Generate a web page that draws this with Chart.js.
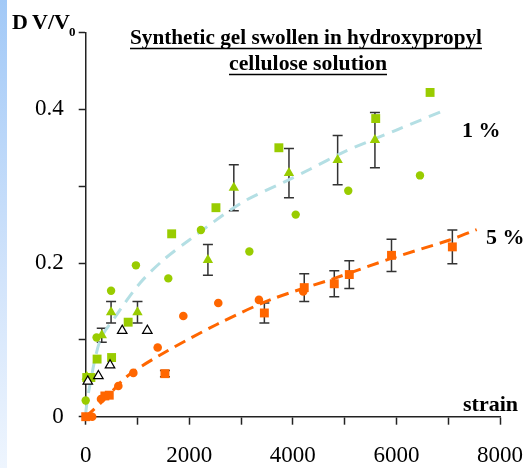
<!DOCTYPE html>
<html>
<head>
<meta charset="utf-8">
<title>Synthetic gel swollen in hydroxypropyl cellulose solution</title>
<script src="https://cdn.jsdelivr.net/npm/chart.js@4.4.1/dist/chart.umd.min.js"></script>
<style>
  html, body { margin: 0; padding: 0; background: #fff; }
  #wrap { width: 531px; height: 468px; }
</style>
</head>
<body>
<div id="wrap"><canvas id="chart" width="531" height="468"></canvas></div>
<script>
// 1 % solution - green squares
const strain1Sq = [20, 100, 220, 500, 820, 1660, 2515, 3730, 5600, 6650];
const dv1Sq = [0.051, 0.051, 0.075, 0.077, 0.123, 0.238, 0.272, 0.350, 0.388, 0.422];

// 1 % solution - green triangles (mean with error bars)
const strain1Tri = [20, 310, 490, 1000, 2360, 2860, 3925, 4865, 5585];
const dv1Tri = [0.052, 0.106, 0.136, 0.136, 0.204, 0.298, 0.317, 0.334, 0.360];
const err1Tri = [0, 0.009, 0.014, 0.014, 0.020, 0.030, 0.032, 0.032, 0.036];

// 1 % solution - green circles
const strain1Circ = [0, 210, 490, 970, 1595, 2225, 3160, 4055, 5070, 6455];
const dv1Circ = [0.021, 0.103, 0.164, 0.197, 0.180, 0.243, 0.215, 0.263, 0.294, 0.314];

// open black triangles
const strainOpen = [40, 245, 470, 705, 1190];
const dvOpen = [0.046, 0.053, 0.067, 0.112, 0.112];

// 5 % solution - orange squares (with error bars)
const strain5Sq = [0, 370, 455, 1530, 3450, 4220, 4800, 5090, 5905, 7080];
const dv5Sq = [0, 0.027, 0.028, 0.056, 0.135, 0.168, 0.173, 0.185, 0.210, 0.221];
const err5Sq = [0, 0, 0, 0.004, 0.013, 0.018, 0.017, 0.018, 0.021, 0.022];

// 5 % solution - orange circles
const strain5Circ = [125, 295, 630, 920, 1390, 1885, 2560, 3345, 4200];
const dv5Circ = [0, 0.023, 0.040, 0.057, 0.090, 0.131, 0.148, 0.152, 0.163];

// dashed fit curves
const fitStrain1 = [0, 50, 280, 570, 1050, 1500, 2000, 3000, 3850, 4330, 5000, 6000, 6970];
const fitDv1 = [0.005, 0.03, 0.100, 0.130, 0.174, 0.204, 0.230, 0.278, 0.306, 0.322, 0.345, 0.373, 0.400];
const fitStrain5 = [0, 100, 400, 790, 1430, 2530, 3560, 4800, 5900, 7030, 7550];
const fitDv5 = [0, 0.006, 0.025, 0.052, 0.080, 0.120, 0.152, 0.180, 0.206, 0.230, 0.2435];

// axis ticks
const xTicks = [0, 2000, 4000, 6000, 8000];
const yTicks = [0, 0.2, 0.4];

const GREEN = '#99cc00';
const ORANGE = '#ff6600';
const SERIF = '"Liberation Serif", "Times New Roman", serif';

function toPoints(xs, ys) {
    return xs.map((x, i) => ({ x: x, y: ys[i] }));
}

const errorBars = {
    id: 'errorBars',
    beforeDatasetsDraw(chart) {
        const ctx = chart.ctx;
        const xs = chart.scales.x;
        const ys = chart.scales.y;
        ctx.save();
        ctx.strokeStyle = '#333';
        ctx.lineWidth = 1.5;
        chart.data.datasets.forEach(ds => {
            if (!ds.errors) return;
            ds.data.forEach((p, i) => {
                const e = ds.errors[i];
                if (!e) return;
                const px = xs.getPixelForValue(p.x);
                const top = ys.getPixelForValue(p.y + e);
                const bot = ys.getPixelForValue(p.y - e);
                ctx.beginPath();
                ctx.moveTo(px, top);
                ctx.lineTo(px, bot);
                ctx.moveTo(px - 5, top);
                ctx.lineTo(px + 5, top);
                ctx.moveTo(px - 5, bot);
                ctx.lineTo(px + 5, bot);
                ctx.stroke();
            });
        });
        ctx.restore();
    }
};

const background = {
    id: 'background',
    beforeDraw(chart) {
        const ctx = chart.ctx;
        ctx.save();
        ctx.fillStyle = '#fff';
        ctx.fillRect(0, 0, chart.width, chart.height);
        const g = ctx.createLinearGradient(0, 0, 0, chart.height);
        g.addColorStop(0, '#a2c9f7');
        g.addColorStop(0.6, '#d2e4fb');
        g.addColorStop(1, '#eef5fe');
        ctx.fillStyle = g;
        ctx.fillRect(0, 0, 7, chart.height);
        ctx.restore();
    }
};

function underlined(ctx, text, cx, baseline, maxW, lineY) {
    let w = ctx.measureText(text).width;
    if (w > maxW) w = maxW;
    ctx.textAlign = 'center';
    ctx.fillText(text, cx, baseline, maxW);
    ctx.beginPath();
    ctx.moveTo(cx - w / 2, lineY);
    ctx.lineTo(cx + w / 2, lineY);
    ctx.stroke();
}

const labels = {
    id: 'labels',
    afterDraw(chart) {
        const ctx = chart.ctx;
        ctx.save();
        ctx.fillStyle = '#000';
        ctx.strokeStyle = '#000';
        ctx.lineWidth = 1.5;
        ctx.textBaseline = 'alphabetic';

        ctx.font = 'bold 22px ' + SERIF;
        underlined(ctx, 'Synthetic gel swollen in hydroxypropyl', 306, 44, 352, 48.5);
        underlined(ctx, 'cellulose solution', 308, 70, 158, 74.5);

        ctx.textAlign = 'left';
        ctx.font = 'bold 22px ' + SERIF;
        ctx.fillText('D', 12, 29);
        ctx.fillText('V/V', 32, 29);
        ctx.font = 'bold 13px ' + SERIF;
        ctx.fillText('0', 69, 36);

        ctx.font = 'bold 22px ' + SERIF;
        ctx.fillText('1 %', 462, 137);
        ctx.fillText('5 %', 486, 244);

        ctx.font = 'bold 22px ' + SERIF;
        ctx.fillText('strain', 463, 411, 62);
        ctx.restore();
    }
};

const ctx = document.getElementById('chart').getContext('2d');

new Chart(ctx, {
    type: 'scatter',
    data: {
        datasets: [
            {
                label: 'open triangles',
                data: toPoints(strainOpen, dvOpen),
                pointStyle: 'triangle',
                pointRadius: 5.5,
                backgroundColor: '#fff',
                borderColor: '#000',
                borderWidth: 1.2,
                clip: false
            },
            {
                label: '1 % triangles',
                data: toPoints(strain1Tri, dv1Tri),
                errors: err1Tri,
                pointStyle: 'triangle',
                pointRadius: 6,
                backgroundColor: GREEN,
                borderColor: GREEN,
                borderWidth: 0,
                clip: false
            },
            {
                label: '1 % squares',
                data: toPoints(strain1Sq, dv1Sq),
                pointStyle: 'rect',
                pointRadius: 6.3,
                backgroundColor: GREEN,
                borderColor: GREEN,
                borderWidth: 0,
                clip: false
            },
            {
                label: '1 % circles',
                data: toPoints(strain1Circ, dv1Circ),
                pointStyle: 'circle',
                pointRadius: 4.2,
                backgroundColor: GREEN,
                borderColor: GREEN,
                borderWidth: 0,
                clip: false
            },
            {
                label: '5 % squares',
                data: toPoints(strain5Sq, dv5Sq),
                errors: err5Sq,
                pointStyle: 'rect',
                pointRadius: 6.3,
                backgroundColor: ORANGE,
                borderColor: ORANGE,
                borderWidth: 0,
                clip: false
            },
            {
                label: '5 % circles',
                data: toPoints(strain5Circ, dv5Circ),
                pointStyle: 'circle',
                pointRadius: 4.3,
                backgroundColor: ORANGE,
                borderColor: ORANGE,
                borderWidth: 0,
                clip: false
            },
            {
                label: '1 % fit',
                data: toPoints(fitStrain1, fitDv1),
                showLine: true,
                borderColor: '#b4dfe4',
                borderWidth: 3,
                borderDash: [12, 8],
                pointRadius: 0,
                tension: 0.3,
                clip: false
            },
            {
                label: '5 % fit',
                data: toPoints(fitStrain5, fitDv5),
                showLine: true,
                borderColor: ORANGE,
                borderWidth: 3,
                borderDash: [12, 7],
                pointRadius: 0,
                tension: 0.3,
                clip: false
            }
        ]
    },
    options: {
        responsive: false,
        animation: false,
        layout: { padding: { top: 32.5, right: 31, left: 0, bottom: 0 } },
        plugins: {
            legend: { display: false },
            tooltip: { enabled: false },
            title: { display: false }
        },
        scales: {
            x: {
                type: 'linear',
                min: 0,
                max: 8000,
                afterFit: function (scale) {
                    scale.height = 51.3;
                    scale.paddingLeft = 0;
                    scale.paddingRight = 0;
                },
                border: { display: true, color: '#222', width: 1.5 },
                grid: { drawOnChartArea: false, drawTicks: true, tickLength: 8, tickWidth: 1.5, tickColor: '#222' },
                ticks: {
                    stepSize: 1000,
                    padding: 17,
                    maxRotation: 0,
                    autoSkip: false,
                    color: '#000',
                    font: { family: SERIF, size: 23 },
                    callback: v => xTicks.includes(v) ? String(v) : ''
                }
            },
            y: {
                type: 'linear',
                min: 0,
                max: 0.5,
                afterFit: function (scale) {
                    scale.width = 85.7;
                    scale.paddingTop = 0;
                    scale.paddingBottom = 0;
                },
                border: { display: true, color: '#222', width: 1.5 },
                grid: { drawOnChartArea: false, drawTicks: true, tickLength: 7, tickWidth: 1.5, tickColor: '#222' },
                ticks: {
                    stepSize: 0.1,
                    padding: 15,
                    autoSkip: false,
                    color: '#000',
                    font: { family: SERIF, size: 23 },
                    callback: function (v) {
                        const r = Math.round(v * 10) / 10;
                        if (!yTicks.includes(r)) return '';
                        return r === 0 ? '0' : r.toFixed(1);
                    }
                }
            }
        }
    },
    plugins: [background, errorBars, labels]
});
</script>
</body>
</html>
